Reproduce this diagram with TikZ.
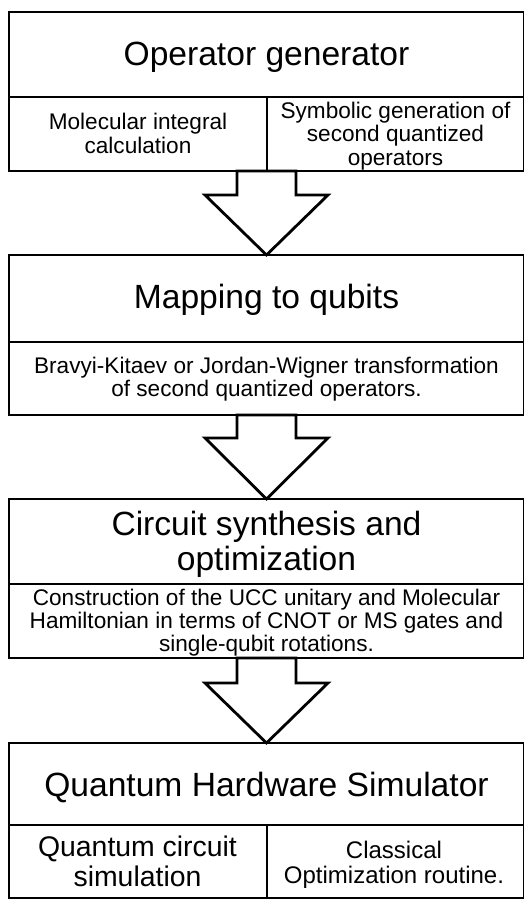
\documentclass[tikz,border=0pt]{standalone}
\usepackage{fontspec}
\setmainfont{Liberation Sans}
\usetikzlibrary{calc,shadows}
\newcommand{\titlefont}{\fontsize{33.6}{35}\selectfont}
\newcommand{\cellfont}{\fontsize{22.6}{23.5}\selectfont}
\begin{document}
\begin{tikzpicture}[x=1pt,y=-1pt,
  frame/.style={draw, line width=2.8pt, fill=white, rectangle, inner sep=0pt, outer sep=0pt,
    anchor=north west, minimum width=515pt,
    drop shadow={shadow xshift=0.8pt, shadow yshift=-1.2pt, opacity=0.3, fill=black}},
  divider/.style={line width=1.6pt},
  bigarrow/.style={draw, line width=2.8pt, fill=white, line join=miter},
  titletext/.style={font=\titlefont, anchor=base, align=center, inner sep=0pt},
  celltext/.style={font=\cellfont, anchor=base, align=center, inner sep=0pt},
]
\useasboundingbox (0,0) rectangle (524,900);
\fill[white] (0,0) rectangle (524,900);

% Box 1
\node[frame, minimum height=159pt] (b1) at (9,12) {};
\draw[divider] ($(b1.north west)+(0,85)$) -- ($(b1.north east)+(0,85)$);
\draw[divider] ($(b1.north)+(0.5,85)$) -- ($(b1.south)+(0.5,0)$);
\node[titletext] (t1) at (266.5,65.5) {Operator generator};
\node[celltext] (c1a) at (138,153) {Molecular integral\\calculation};
\node[celltext] (c1b) at (395.5,165) {Symbolic generation of\\second quantized\\operators};

% Box 2
\node[frame, minimum height=160pt] (b2) at (9,255) {};
\draw[divider] ($(b2.north west)+(0,87)$) -- ($(b2.north east)+(0,87)$);
\node[titletext] (t2) at (266.5,308.3) {Mapping to qubits};
\node[celltext] (c2) at (266.5,396.7) {Bravyi-Kitaev or Jordan-Wigner transformation\\of second quantized operators.};

% Box 3
\node[frame, minimum height=159pt] (b3) at (9,499) {};
\draw[divider] ($(b3.north west)+(0,85)$) -- ($(b3.north east)+(0,85)$);
\node[titletext] (t3) at (266.5,570) {Circuit synthesis and\\optimization};
\node[celltext, font=\fontsize{22.6}{23.3}\selectfont] (c3) at (266.5,651.7) {Construction of the UCC unitary and Molecular\\Hamiltonian in terms of CNOT or MS gates and\\single-qubit rotations.};

% Box 4
\node[frame, minimum height=155pt] (b4) at (9,743) {};
\draw[divider] ($(b4.north west)+(0,82)$) -- ($(b4.north east)+(0,82)$);
\draw[divider] ($(b4.north)+(0.5,82)$) -- ($(b4.south)+(0.5,0)$);
\node[titletext] (t4) at (266.5,796.7) {Quantum Hardware Simulator};
\node[celltext, font=\fontsize{28.4}{30}\selectfont] (c4a) at (137.5,886.7) {Quantum circuit\\simulation};
\node[celltext, font=\fontsize{24}{25}\selectfont] (c4b) at (394,883.3) {Classical\\Optimization routine.};

% Arrows
\draw[bigarrow] ($(b1.south)+(-29.5,0)$) -- ++(0,24) -- ++(-32,0) -- (b2.north)
  -- ($(b1.south)+(61.5,24)$) -- ++(-32,0) -- ($(b1.south)+(29.5,0)$) -- cycle;
\draw[bigarrow] ($(b2.south)+(-29.5,0)$) -- ++(0,23) -- ++(-32,0) -- (b3.north)
  -- ($(b2.south)+(61.5,23)$) -- ++(-32,0) -- ($(b2.south)+(29.5,0)$) -- cycle;
\draw[bigarrow] ($(b3.south)+(-29.5,0)$) -- ++(0,25) -- ++(-32,0) -- (b4.north)
  -- ($(b3.south)+(61.5,25)$) -- ++(-32,0) -- ($(b3.south)+(29.5,0)$) -- cycle;
\end{tikzpicture}
\end{document}
